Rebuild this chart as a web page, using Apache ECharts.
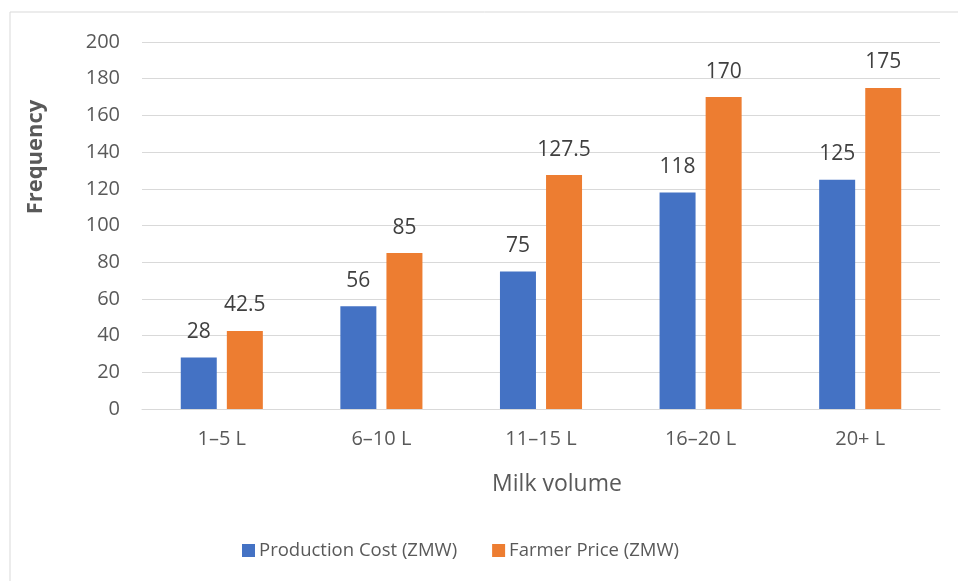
<!DOCTYPE html>
<html>
<head>
<meta charset="utf-8">
<script src="https://cdn.jsdelivr.net/npm/echarts@6/dist/echarts.min.js"></script>
<style>
html,body{margin:0;padding:0;background:#fff;}
#chart{width:958px;height:581px;}
</style>
</head>
<body>
<div id="chart"></div>
<script>
const categories = ['1–5 L', '6–10 L', '11–15 L', '16–20 L', '20+ L'];
const productionCost = [28, 56, 75, 118, 125];
const farmerPrice = [42.5, 85, 127.5, 170, 175];
const seriesNames = ['Production Cost (ZMW)', 'Farmer Price (ZMW)'];

const FONT = '"Open Sans", "Liberation Sans", sans-serif';
const chart = echarts.init(document.getElementById('chart'), null, { renderer: 'canvas' });

const labelStyle = {
  show: true,
  position: 'top',
  distance: 15,
  color: '#404040',
  fontSize: 21,
  fontFamily: FONT
};

chart.setOption({
  animation: false,
  backgroundColor: '#fff',
  graphic: [
    {
      type: 'rect',
      shape: { x: 10, y: 12, width: 1000, height: 700 },
      style: { fill: 'none', stroke: '#d9d9d9', lineWidth: 1 },
      silent: true
    },
    {
      type: 'text',
      x: 36,
      y: 157,
      rotation: Math.PI / 2,
      style: {
        text: 'Frequency',
        fill: '#595959',
        font: 'bold 22px ' + FONT,
        align: 'center',
        verticalAlign: 'middle'
      },
      silent: true
    }
  ],
  grid: { left: 142, right: 18, top: 42, bottom: 172, containLabel: false },
  legend: {
    bottom: 16,
    left: 237,
    itemWidth: 13,
    itemHeight: 13,
    itemGap: 35,
    icon: 'rect',
    textStyle: { color: '#595959', fontSize: 18.5, fontFamily: FONT, padding: [0, 0, 0, -1] },
    data: seriesNames
  },
  xAxis: {
    type: 'category',
    data: categories,
    name: 'Milk volume',
    nameLocation: 'middle',
    nameGap: 64,
    nameTextStyle: { color: '#595959', fontSize: 23, fontFamily: FONT, padding: [0, 0, 0, 32] },
    axisLine: { show: true, lineStyle: { color: '#d9d9d9', width: 1 } },
    axisTick: { show: false },
    axisLabel: { color: '#595959', fontSize: 20, fontFamily: FONT, margin: 20 }
  },
  yAxis: {
    type: 'value',
    min: 0,
    max: 200,
    interval: 20,
    axisLine: { show: false },
    axisTick: { show: false },
    axisLabel: { color: '#595959', fontSize: 20, fontFamily: FONT, margin: 22 },
    splitLine: { lineStyle: { color: '#d9d9d9', width: 1 } }
  },
  series: [
    {
      name: seriesNames[0],
      type: 'bar',
      data: productionCost,
      barWidth: 36,
      barGap: '28%',
      itemStyle: { color: '#4472c4' },
      label: labelStyle
    },
    {
      name: seriesNames[1],
      type: 'bar',
      data: farmerPrice,
      barWidth: 36,
      barGap: '28%',
      itemStyle: { color: '#ed7d31' },
      label: labelStyle
    }
  ]
});
</script>
</body>
</html>
